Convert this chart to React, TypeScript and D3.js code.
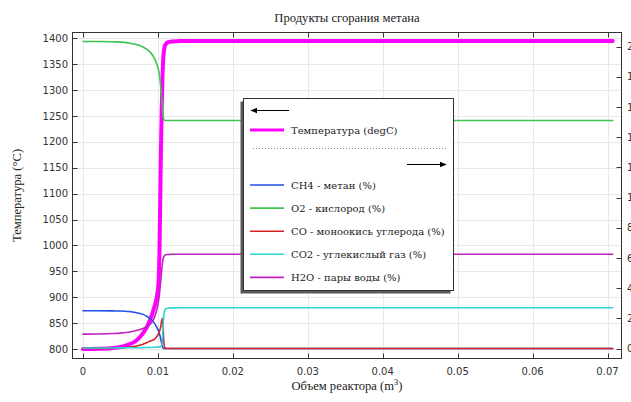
import React from "react";
import * as d3 from "d3";

// Reactor volume, m^3 (shared sample positions for every profile)
const volume = [0, 0.002, 0.004, 0.005, 0.006, 0.007, 0.008, 0.0085, 0.009, 0.0095, 0.01, 0.0101, 0.0102, 0.0103, 0.0104, 0.0105, 0.0106, 0.0107, 0.0108, 0.0109, 0.011, 0.0112, 0.0115, 0.012, 0.013, 0.015, 0.02, 0.0707];

// Temperature, degC (left axis)
const temperature = [800, 800.5, 802, 804, 808, 815, 830, 842, 858, 880, 915, 935, 985, 1080, 1180, 1260, 1320, 1358, 1376, 1384, 1388, 1391, 1393, 1394, 1395, 1395, 1395, 1395];

// Species, % (right axis)
const ch4 = [2.5, 2.5, 2.49, 2.48, 2.45, 2.39, 2.26, 2.14, 1.97, 1.7, 1.25, 1.13, 0.98, 0.8, 0.58, 0.33, 0.1, 0.02, 0, 0, 0, 0, 0, 0, 0, 0, 0, 0];
const o2 = [20.33, 20.33, 20.31, 20.29, 20.24, 20.15, 19.97, 19.82, 19.6, 19.25, 18.6, 18.4, 18.1, 17.7, 17.2, 16.6, 16.0, 15.35, 15.15, 15.11, 15.1, 15.1, 15.1, 15.1, 15.1, 15.1, 15.1, 15.1];
const co = [0, 0.005, 0.02, 0.04, 0.08, 0.15, 0.28, 0.38, 0.5, 0.6, 0.9, 1.0, 1.12, 1.28, 1.52, 1.85, 2.0, 1.3, 0.35, 0.08, 0.02, 0, 0, 0, 0, 0, 0, 0];
const co2 = [0.03, 0.03, 0.035, 0.04, 0.045, 0.05, 0.06, 0.065, 0.07, 0.08, 0.1, 0.1, 0.11, 0.12, 0.14, 0.18, 0.6, 1.6, 2.3, 2.5, 2.6, 2.65, 2.68, 2.69, 2.7, 2.7, 2.7, 2.7];
const h2o = [0.95, 0.96, 0.99, 1.02, 1.08, 1.17, 1.32, 1.44, 1.62, 2.0, 2.9, 3.2, 3.6, 4.1, 4.6, 5.15, 5.65, 5.95, 6.1, 6.17, 6.2, 6.22, 6.23, 6.24, 6.24, 6.24, 6.24, 6.24];

const xTicks = [0, 0.01, 0.02, 0.03, 0.04, 0.05, 0.06, 0.07];
const xTickLabels = ["0", "0.01", "0.02", "0.03", "0.04", "0.05", "0.06", "0.07"];
const leftTicks = [800, 850, 900, 950, 1000, 1050, 1100, 1150, 1200, 1250, 1300, 1350, 1400];
const rightTicks = [0, 2, 4, 6, 8, 10, 12, 14, 16, 18, 20];

const speciesSeries = [
  { name: "CH4 - метан (%)", values: ch4, color: "#1f4fe8" },
  { name: "O2 - кислород (%)", values: o2, color: "#3cc44c" },
  { name: "CO - моноокись углерода (%)", values: co, color: "#d42222" },
  { name: "CO2 - углекислый газ (%)", values: co2, color: "#2ad3d8" },
  { name: "H2O - пары воды (%)", values: h2o, color: "#bf22bf" },
];
const tempColor = "#ff00ff";
const tempLabel = "Температура (degC)";

const W = 631;
const H = 402;
const plot = { left: 72.5, right: 621.5, top: 32.5, bottom: 358.5 };

const serif = "'Liberation Serif', 'Times New Roman', serif";
const legendFont = "'DejaVu Serif', serif";
const sans = "'DejaVu Sans', sans-serif";

export default function App() {
  const x = d3.scaleLinear().domain([0, 0.07]).range([83, 607.5]);
  const yL = d3.scaleLinear().domain([800, 1400]).range([349, 38.3]);
  const yR = d3.scaleLinear().domain([0, 20]).range([348.5, 46.5]);

  const lineL = d3
    .line<number>()
    .x((_, i) => x(volume[i]))
    .y((v) => yL(v))
    .curve(d3.curveMonotoneX);
  const lineR = d3
    .line<number>()
    .x((_, i) => x(volume[i]))
    .y((v) => yR(v))
    .curve(d3.curveMonotoneX);

  const axisColor = "#333";
  const gridColor = "#e8e8e8";
  const tickLen = 5;

  // legend geometry
  const lg = { x: 243.5, y: 98.5, w: 210, h: 192 };
  const rowY0 = 185;
  const rowStep = 23.1;

  return (
    <svg
      width={W}
      height={H}
      style={{ position: "fixed", left: 0, top: 0, background: "#fff" }}
      xmlns="http://www.w3.org/2000/svg"
    >
      <defs>
        <clipPath id="plotClip">
          <rect x={plot.left} y={plot.top} width={plot.right - plot.left} height={plot.bottom - plot.top} />
        </clipPath>
        <marker id="arrowHead" viewBox="0 0 10 10" refX="9" refY="5" markerWidth="7" markerHeight="7" orient="auto-start-reverse">
          <path d="M0,1 L10,5 L0,9 z" fill="#000" />
        </marker>
      </defs>
      <rect x={0} y={0} width={W} height={H} fill="#fff" />

      {/* grid */}
      <g>
        {xTicks.map((t) => (
          <line key={"gx" + t} x1={Math.round(x(t)) + 0.5} x2={Math.round(x(t)) + 0.5} y1={plot.top} y2={plot.bottom} stroke={gridColor} strokeWidth={1} />
        ))}
        {leftTicks.map((t) => (
          <line key={"gy" + t} x1={plot.left} x2={plot.right} y1={Math.round(yL(t)) + 0.5} y2={Math.round(yL(t)) + 0.5} stroke={gridColor} strokeWidth={1} />
        ))}
      </g>

      {/* data */}
      <g clipPath="url(#plotClip)" fill="none" strokeLinejoin="round" strokeLinecap="round">
        <path d={lineL(temperature) || ""} stroke={tempColor} strokeWidth={4} />
        {speciesSeries.map((s) => (
          <path key={s.name} d={lineR(s.values) || ""} stroke={s.color} strokeWidth={1.6} />
        ))}
      </g>

      {/* frame */}
      <rect x={plot.left} y={plot.top} width={plot.right - plot.left} height={plot.bottom - plot.top} fill="none" stroke={axisColor} strokeWidth={1} />

      {/* ticks (inward on all four sides) */}
      <g stroke={axisColor}>
        {xTicks.map((t) => {
          const px = Math.round(x(t)) + 0.5;
          return (
            <g key={"xt" + t}>
              <line x1={px} x2={px} y1={plot.bottom} y2={plot.bottom - tickLen} />
              <line x1={px} x2={px} y1={plot.top} y2={plot.top + tickLen} />
            </g>
          );
        })}
        {leftTicks.map((t) => {
          const py = Math.round(yL(t)) + 0.5;
          return <line key={"lt" + t} x1={plot.left} x2={plot.left + tickLen} y1={py} y2={py} />;
        })}
        {rightTicks.map((t) => {
          const py = Math.round(yR(t)) + 0.5;
          return <line key={"rt" + t} x1={plot.right} x2={plot.right - tickLen} y1={py} y2={py} />;
        })}
      </g>

      {/* tick labels */}
      <g fontFamily={sans} fontSize={10} fill="#333">
        {xTicks.map((t, i) => (
          <text key={"xl" + t} x={x(t)} y={375} textAnchor="middle">
            {xTickLabels[i]}
          </text>
        ))}
        {leftTicks.map((t) => (
          <text key={"ll" + t} x={68} y={yL(t) + 3.6} textAnchor="end">
            {t}
          </text>
        ))}
        {rightTicks.map((t) => (
          <text key={"rl" + t} x={627} y={yR(t) + 3.6} textAnchor="start">
            {t}
          </text>
        ))}
      </g>

      {/* titles */}
      <text x={(plot.left + plot.right) / 2} y={22} textAnchor="middle" fontFamily={serif} fontSize={12.6} fill="#222">
        Продукты сгорания метана
      </text>
      <text x={(plot.left + plot.right) / 2} y={390} textAnchor="middle" fontFamily={serif} fontSize={12.6} fill="#222">
        Объем реактора (m<tspan dy={-5} fontSize={8.5}>3</tspan>
        <tspan dy={5}>)</tspan>
      </text>
      <text
        transform={`translate(21, ${(plot.top + plot.bottom) / 2}) rotate(-90)`}
        textAnchor="middle"
        fontFamily={serif}
        fontSize={12.6}
        fill="#222"
      >
        Температура (°C)
      </text>

      {/* legend */}
      <g>
        <rect x={lg.x - 3} y={lg.y + 3} width={lg.w} height={lg.h} fill="#5a5a5a" />
        <rect x={lg.x} y={lg.y} width={lg.w} height={lg.h} fill="#fff" stroke="#333" strokeWidth={1} />
        <line x1={289} x2={251} y1={110.5} y2={110.5} stroke="#000" strokeWidth={1} markerEnd="url(#arrowHead)" />
        <line x1={250} x2={284} y1={130} y2={130} stroke={tempColor} strokeWidth={3.2} />
        <text x={291} y={133.5} fontFamily={legendFont} fontSize={10} fill="#222">
          {tempLabel}
        </text>
        <line x1={253} x2={447} y1={148.5} y2={148.5} stroke="#888" strokeWidth={1} strokeDasharray="1,2" />
        <line x1={407} x2={446} y1={164.5} y2={164.5} stroke="#000" strokeWidth={1} markerEnd="url(#arrowHead)" />
        {speciesSeries.map((s, i) => {
          const yy = rowY0 + i * rowStep;
          return (
            <g key={"lg" + s.name}>
              <line x1={250} x2={284} y1={yy} y2={yy} stroke={s.color} strokeWidth={1.6} />
              <text x={291} y={yy + 3.5} fontFamily={legendFont} fontSize={10} fill="#222">
                {s.name}
              </text>
            </g>
          );
        })}
      </g>
    </svg>
  );
}
